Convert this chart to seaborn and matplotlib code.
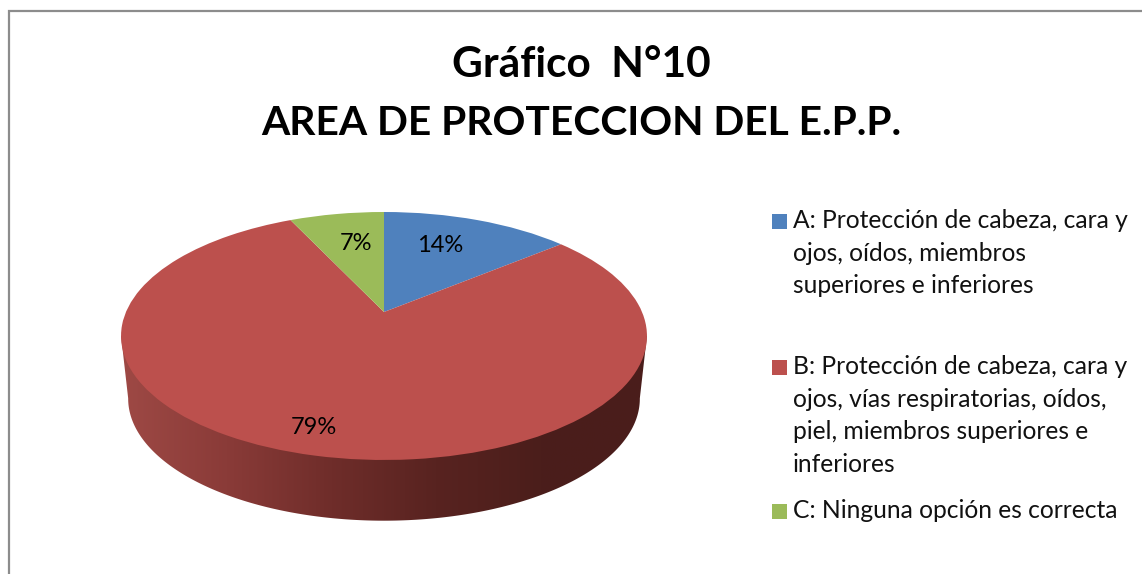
import numpy as np
import matplotlib
matplotlib.use("Agg")
import matplotlib.pyplot as plt
from matplotlib.colors import LinearSegmentedColormap
from matplotlib.patches import Polygon, Rectangle
from matplotlib.transforms import Transform
import seaborn as sns

# --- data ---
categories = [
    "A: Protección de cabeza, cara y\nojos, oídos, miembros\nsuperiores e inferiores",
    "B: Protección de cabeza, cara y\nojos, vías respiratorias, oídos,\npiel, miembros superiores e\ninferiores",
    "C: Ninguna opción es correcta",
]
values = [14, 79, 7]
value_labels = ["14%", "79%", "7%"]
colors = ["#4f81bd", "#bc504d", "#9bbb59"]
title_lines = ["Gráfico  N°10", "AREA DE PROTECCION DEL E.P.P."]

sns.set_theme(style="white")
plt.rcParams["font.family"] = ["Lato", "DejaVu Sans"]

W, H = 1142, 574
fig = plt.figure(figsize=(W / 100, H / 100), dpi=100, facecolor="white")
ax = fig.add_axes([0, 0, 1, 1])


class Perspective(Transform):
    """Tilted view of the unit pie, mapped to pixel coordinates."""
    input_dims = 2
    output_dims = 2
    is_separable = False
    has_inverse = False

    def __init__(self, cx, cy, a, b, k):
        super().__init__()
        self.cx, self.cy, self.a, self.b, self.k = cx, cy, a, b, k

    def transform_non_affine(self, xy):
        xy = np.asarray(xy, dtype=float)
        w = 1 + self.k * xy[:, 1]
        return np.column_stack([self.cx + self.b * xy[:, 0] / w,
                                self.cy - self.a * xy[:, 1] / w])


top = Perspective(384, 312, 119.35, 258, 0.1935)
bottom = Perspective(384, 375, 117.5, 251, 0.1935)

# pie top surface
wedges, _ = ax.pie(values, colors=colors, startangle=90, counterclock=False,
                   wedgeprops=dict(linewidth=0))
for w in wedges:
    w.set_transform(top + ax.transData)
    w.set_zorder(3)

# side wall with horizontal gradient
t = np.linspace(np.pi, 2 * np.pi, 361)
half = np.column_stack([np.cos(t), np.sin(t)])
top_pts = top.transform(half)
bot_pts = bottom.transform(half)
il, ir = bot_pts[:, 0].argmin(), bot_pts[:, 0].argmax()
tl, tr = top_pts[:, 0].argmin(), top_pts[:, 0].argmax()
wall = np.vstack([top_pts[tl], bot_pts[il:ir + 1], top_pts[tr]])
wall_cmap = LinearSegmentedColormap.from_list(
    "wall", ["#9e4945", "#8a3b38", "#6f2d2a", "#582320", "#4b1e1b", "#4a1d1b"])
img = ax.imshow(np.linspace(0, 1, 256)[None, :], cmap=wall_cmap,
                extent=[121, 647, 540, 300], aspect="auto", zorder=2)
clip = Polygon(wall, closed=True, transform=ax.transData, facecolor="none", edgecolor="none")
ax.add_patch(clip)
img.set_clip_path(clip)

# value labels
label_pos = [(440, 246), (314, 427), (356, 244)]
for (x, y), s in zip(label_pos, value_labels):
    ax.text(x, y, s, ha="center", va="center", fontsize=17, color="black", zorder=5)

# title
for base, line, size in zip([77, 135], title_lines, [30.5, 29.3]):
    ax.text(581, base, line, ha="center", va="baseline", fontsize=size,
            fontweight="bold", color="black")

# legend
legend_y = [221, 367, 511]
for y, c, s in zip(legend_y, colors, categories):
    ax.add_patch(Rectangle((772, y - 7), 15, 15, facecolor=c, edgecolor="none"))
    for i, line in enumerate(s.split("\n")):
        ax.text(793, y + 7 + 32.7 * i, line, ha="left", va="baseline",
                fontsize=17.7, color="#111111")

# chart frame (left and top only are visible)
ax.plot([9, 9, W], [H, 11, 11], color="#8c8c8c", lw=1.6, solid_joinstyle="miter")

ax.set_xlim(0, W)
ax.set_ylim(H, 0)
ax.set_aspect("auto")
ax.axis("off")
fig.savefig("out.png", dpi=100, facecolor="white")
